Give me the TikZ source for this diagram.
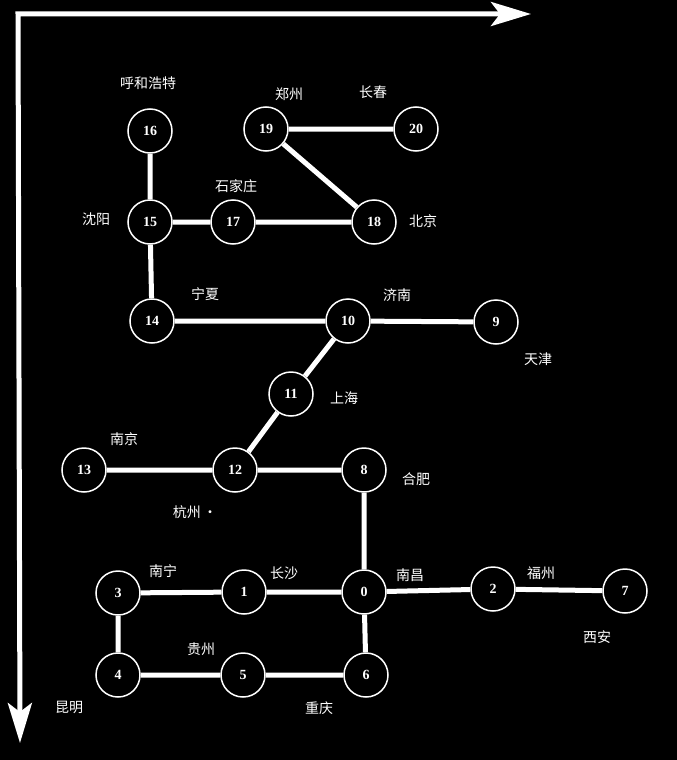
\documentclass[tikz,border=0pt]{standalone}
\usepackage{fontspec}
\setmainfont{Liberation Serif}
\newfontfamily\cjk{Noto Sans CJK SC}
\usetikzlibrary{arrows.meta}

\begin{document}
\begin{tikzpicture}[x=1pt,y=-1pt,>=Stealth,
city/.style={circle,draw=white,line width=1.5pt,fill=black,minimum size=44pt,inner sep=0pt,text=white,font=\fontsize{14}{14}\selectfont\bfseries},
cityname/.style={text=white,inner sep=0pt,font=\cjk\fontsize{14}{14}\selectfont},
road/.style={white,line width=5pt}]
\fill[black](0,0)rectangle(677,760);
\useasboundingbox(0,0)rectangle(677,760);
% axes
\coordinate(o)at(18,14);
\coordinate(xend)at(531,14);
\coordinate(yend)at(20,743);
\draw[white,line width=5pt,miter limit=4,{Stealth[length=40pt,width=24pt,inset=9pt]}-{Stealth[length=40pt,width=24pt,inset=9pt]}](xend)--(o)--(yend);
% cities
\node[city](c16)at(150,131){16};
\node[city](c19)at(266,129){19};
\node[city](c20)at(416,129){20};
\node[city](c15)at(150,222){15};
\node[city](c17)at(233,222){17};
\node[city](c18)at(374,222){18};
\node[city](c14)at(152,321){14};
\node[city](c10)at(348,321){10};
\node[city](c9)at(496,322){9};
\node[city](c11)at(291,394){11};
\node[city](c13)at(84,470){13};
\node[city](c12)at(235,470){12};
\node[city](c8)at(364,470){8};
\node[city](c3)at(118,593){3};
\node[city](c1)at(244,592){1};
\node[city](c0)at(364,592){0};
\node[city](c2)at(493,589){2};
\node[city](c7)at(625,591){7};
\node[city](c4)at(118,675){4};
\node[city](c5)at(243,675){5};
\node[city](c6)at(366,675){6};
% names
\node[cityname](n16)at(148,83){呼和浩特};
\node[cityname](n19)at(289,94){郑州};
\node[cityname](n20)at(373,92){长春};
\node[cityname](n17)at(236,186){石家庄};
\node[cityname](n15)at(96,219){沈阳};
\node[cityname](n18)at(423,221){北京};
\node[cityname](n14)at(205,294){宁夏};
\node[cityname](n10)at(397,295){济南};
\node[cityname](n9)at(538,359){天津};
\node[cityname](n11)at(344,398){上海};
\node[cityname](n13)at(124,439){南京};
\node[cityname](n12)at(195,512){杭州\,·};
\node[cityname](n8)at(416,479){合肥};
\node[cityname](n3)at(163,571){南宁};
\node[cityname](n1)at(284,573){长沙};
\node[cityname](n0)at(410,575){南昌};
\node[cityname](n2)at(541,573){福州};
\node[cityname](n7)at(597,637){西安};
\node[cityname](n5)at(201,649){贵州};
\node[cityname](n4)at(69,707){昆明};
\node[cityname](n6)at(319,708){重庆};
% roads
\draw[road](c16)--(c15)(c15)--(c17)(c17)--(c18)(c18)--(c19)(c19)--(c20)
(c15)--(c14)(c14)--(c10)(c10)--(c9)(c10)--(c11)(c11)--(c12)
(c12)--(c13)(c12)--(c8)(c8)--(c0)(c0)--(c1)(c1)--(c3)
(c3)--(c4)(c4)--(c5)(c5)--(c6)(c6)--(c0)(c0)--(c2)(c2)--(c7);
\end{tikzpicture}
\end{document}
